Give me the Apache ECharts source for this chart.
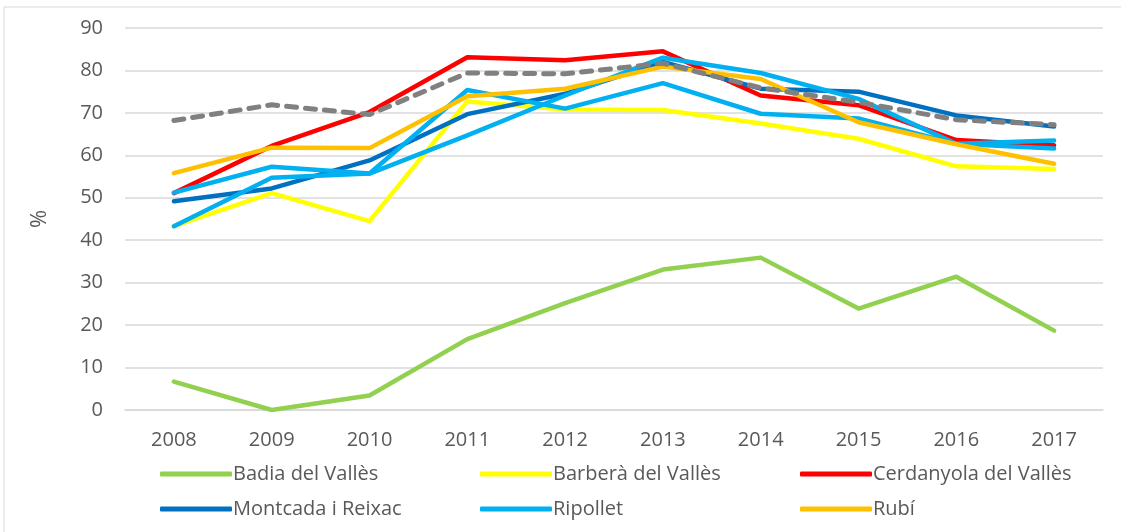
<!DOCTYPE html>
<html>
<head>
<meta charset="utf-8">
<script src="https://cdn.jsdelivr.net/npm/echarts@6/dist/echarts.min.js"></script>
<style>
html,body{margin:0;padding:0;background:#fff;}
#chart{width:1121px;height:532px;}
</style>
</head>
<body>
<div id="chart"></div>
<script>
const years = ['2008','2009','2010','2011','2012','2013','2014','2015','2016','2017'];
const badia = [6.7, 0, 3.4, 16.7, 25.2, 33.1, 35.9, 23.9, 31.4, 18.7];
const barbera = [43.3, 51.1, 44.5, 72.7, 70.8, 70.7, 67.5, 63.9, 57.4, 56.8];
const cerdanyola = [51.1, 62.2, 70.2, 83.1, 82.4, 84.5, 74.1, 71.8, 63.6, 62.4];
const montcada = [49.2, 52.2, 58.8, 69.7, 74.5, 82.0, 75.7, 75.0, 69.4, 66.8];
const ripollet = [51.2, 57.3, 55.7, 75.4, 71.0, 77.0, 69.8, 68.7, 62.7, 63.5];
const rubi = [55.8, 61.8, 61.7, 73.9, 75.7, 80.9, 78.0, 67.8, 62.6, 58.0];
const extraBlue = [43.3, 54.7, 55.7, 64.7, 74.1, 83.0, 79.4, 73.3, 62.7, 61.6];
const average = [68.2, 71.9, 69.6, 79.4, 79.2, 81.7, 75.9, 72.5, 68.4, 67.2];
const yTicks = {min: 0, max: 90, interval: 10};

const font = '"Open Sans", "Noto Sans", sans-serif';
const txt = '#595959';

const named = [
  {name: 'Badia del Vallès', data: badia, color: '#92D050'},
  {name: 'Barberà del Vallès', data: barbera, color: '#FFFF00'},
  {name: 'Cerdanyola del Vallès', data: cerdanyola, color: '#FF0000'},
  {name: 'Montcada i Reixac', data: montcada, color: '#0070C0'},
  {name: 'Ripollet', data: ripollet, color: '#00B0F0'},
  {name: 'Rubí', data: rubi, color: '#FFC000'}
];

const series = named.map(s => ({
  name: s.name, type: 'line', data: s.data, symbol: 'none',
  lineStyle: {color: s.color, width: 4.5, cap: 'round', join: 'round'},
  itemStyle: {color: s.color}
}));
series.splice(5, 0, {
  name: 'Sèrie 7', type: 'line', data: extraBlue, symbol: 'none',
  lineStyle: {color: '#00B0F0', width: 4.5, cap: 'round', join: 'round'},
  itemStyle: {color: '#00B0F0'}
});
series.push({
  name: 'Mitjana', type: 'line', data: average, symbol: 'none', z: 5,
  lineStyle: {color: '#808080', width: 5, type: [10, 9], cap: 'round', join: 'round'},
  itemStyle: {color: '#808080'}
});

const legendPos = [[155,459],[475,459],[795,459],[155,494],[475,494],[795,494]];
const legends = named.map((s, i) => ({
  data: [s.name], left: legendPos[i][0], top: legendPos[i][1],
  icon: 'roundRect', itemWidth: 72, itemHeight: 5, itemGap: 0,
  selectedMode: false,
  textStyle: {color: txt, fontSize: 20, fontFamily: font, padding: [0,0,0,-4]}
}));

const chart = echarts.init(document.getElementById('chart'));
chart.setOption({
  animation: false,
  backgroundColor: '#fff',
  graphic: [{type: 'rect', shape: {x: 4, y: 7, width: 1200, height: 700},
    style: {fill: 'none', stroke: '#d9d9d9', lineWidth: 1}, silent: true}],
  grid: {left: 125, right: 18, top: 28, bottom: 122},
  legend: legends,
  xAxis: {
    type: 'category', data: years, boundaryGap: true,
    axisLine: {show: true, lineStyle: {color: '#d9d9d9', width: 1.5}},
    axisTick: {show: false},
    axisLabel: {color: txt, fontSize: 20, fontFamily: font, margin: 20}
  },
  yAxis: {
    type: 'value', min: yTicks.min, max: yTicks.max, interval: yTicks.interval,
    name: '%', nameLocation: 'middle', nameGap: 74, nameRotate: 90,
    nameTextStyle: {color: txt, fontSize: 22, fontFamily: font},
    axisLine: {show: false}, axisTick: {show: false},
    axisLabel: {color: txt, fontSize: 20, fontFamily: font, margin: 22},
    splitLine: {lineStyle: {color: '#d9d9d9', width: 1.5}}
  },
  series: series
});
</script>
</body>
</html>
